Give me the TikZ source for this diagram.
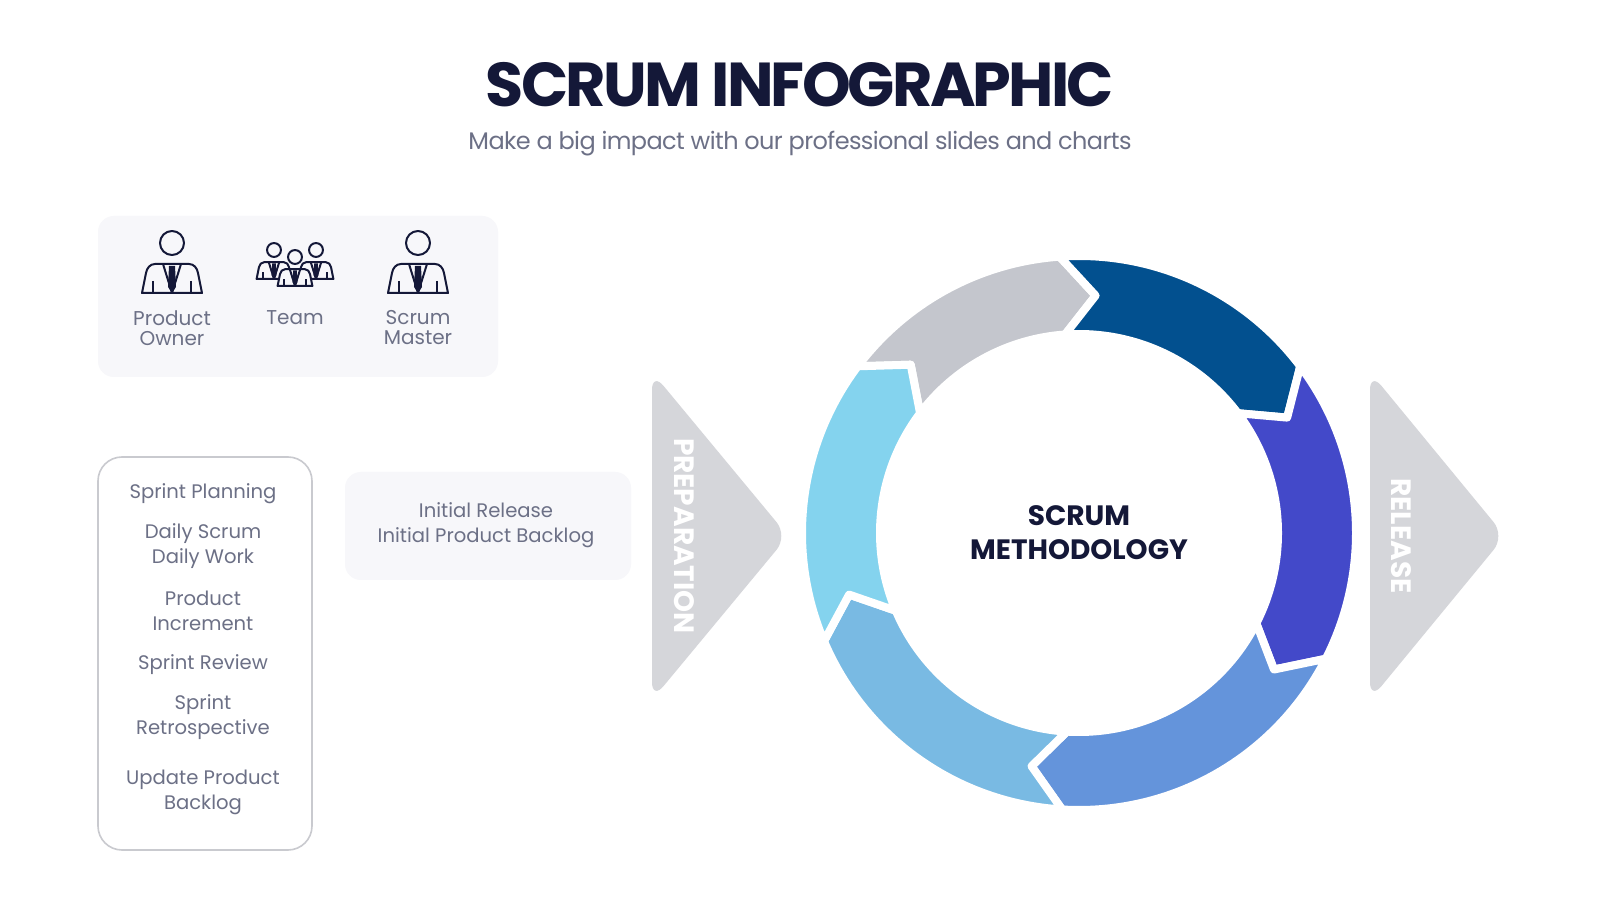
\documentclass[tikz,border=0pt]{standalone}
\usepackage{fontspec}
\setmainfont{Poppins}
\usepackage{tikz}
\definecolor{navy}{HTML}{141838}
\definecolor{txtgray}{HTML}{6C7086}
\definecolor{boxfill}{HTML}{F7F7FA}
\definecolor{boxline}{HTML}{C9CACF}
\definecolor{tri}{HTML}{D5D6DA}
\definecolor{segA}{HTML}{C4C6CD}
\definecolor{segB}{HTML}{02508F}
\definecolor{segC}{HTML}{4349C9}
\definecolor{segD}{HTML}{6494DB}
\definecolor{segE}{HTML}{79BAE3}
\definecolor{segF}{HTML}{84D3EE}

\tikzset{
  icon/.style={draw=navy,line width=1pt,line join=round},
  person/.pic={
    \draw[icon,fill=boxfill] (0,0) circle[radius=12];
    \draw[icon,fill=boxfill] (-30,-50) -- (-26,-30) to[out=80,in=180] (-17,-21) -- (17,-21) to[out=0,in=100] (26,-30) -- (30,-50) -- cycle;
    \draw[icon] (-9,-21) -- (0,-50) -- (9,-21);
    \fill[navy] (-3,-23) -- (3,-23) -- (4,-44) -- (0,-50) -- (-4,-44) -- cycle;
    \draw[icon] (-19,-38) -- (-19,-50) (19,-38) -- (19,-50);
  }
}

\begin{document}
\begin{tikzpicture}[x=0.5pt,y=0.5pt,
  lbl/.style={text=txtgray,font=\fontsize{9.8}{12.5}\selectfont,align=center},
  iconlbl/.style={text=txtgray,font=\fontsize{10}{10}\selectfont,align=center},
  heavy/.style={font=\fontsize{14}{17}\selectfont\bfseries,align=center},
  seg/.style={draw=white,line width=4pt,line join=round}]
\fill[white] (0,0) rectangle (1600,900);
\useasboundingbox (0,0) rectangle (1600,900);

\node[font=\fontsize{31}{31}\selectfont\bfseries\addfontfeatures{LetterSpace=-4.5},text=navy,anchor=base] (title) at (800,793) {SCRUM INFOGRAPHIC};
\node[font=\fontsize{12}{14}\selectfont\addfontfeatures{LetterSpace=-2.5},text=txtgray,anchor=base] (subtitle) at (800,750) {Make a big impact with our professional slides and charts};

% roles
\fill[boxfill,rounded corners=8pt] (98,523) rectangle (498,684);
\pic at (172,657) {person};
\pic[scale=0.58] at (274,650) {person};
\pic[scale=0.58] at (316,650) {person};
\pic[scale=0.58] at (295,643) {person};
\pic at (418,657) {person};
\node[iconlbl] (owner) at (172,572) {Product\\Owner};
\node[iconlbl] (team) at (295,582) {Team};
\node[iconlbl] (master) at (418,572) {Scrum\\Master};

% events
\draw[boxline,line width=0.8pt,fill=white,rounded corners=12pt] (98,50) rectangle (312,443);
\foreach \t/\y [count=\i] in {Sprint Planning/406,{Daily Scrum\\Daily Work}/353.5,{Product\\Increment}/289,
  Sprint Review/235,{Sprint\\Retrospective}/182.5,{Update Product\\Backlog}/108}
  \node[lbl] (event\i) at (203,\y) {\t};

\fill[boxfill,rounded corners=8pt] (345,320) rectangle (631,428);
\node[lbl,text depth=0pt] (initial) at (486,377) {Initial Release\\Initial Product Backlog};

% phases
\fill[tri,rounded corners=9pt] (652,528) -- (788,364) -- (652,200) -- cycle;
\node[heavy,text=white,rotate=-90] (prep) at (684,364) {PREPARATION};
\fill[tri,rounded corners=9pt] (1370,528) -- (1505,364) -- (1370,200) -- cycle;
\node[heavy,text=white,rotate=-90] (release) at (1401,364) {RELEASE};

% cycle
\foreach \a/\b/\c in {143/94/segA,94/37/segB,37/-27/segC,-27/-93.5/segD,-93.5/-157/segE,-157/-217/segF}
  \filldraw[seg,fill=\c,shift={(1079,367)}] (\a:277) arc[start angle=\a,end angle=\b,radius=277]
    -- ({\b-8}:238) -- (\b:199) arc[start angle=\b,end angle=\a,radius=199] -- ({\a-8}:238) -- cycle;
\node[heavy,text=navy] (method) at (1079,367) {SCRUM\\METHODOLOGY};
\end{tikzpicture}
\end{document}
